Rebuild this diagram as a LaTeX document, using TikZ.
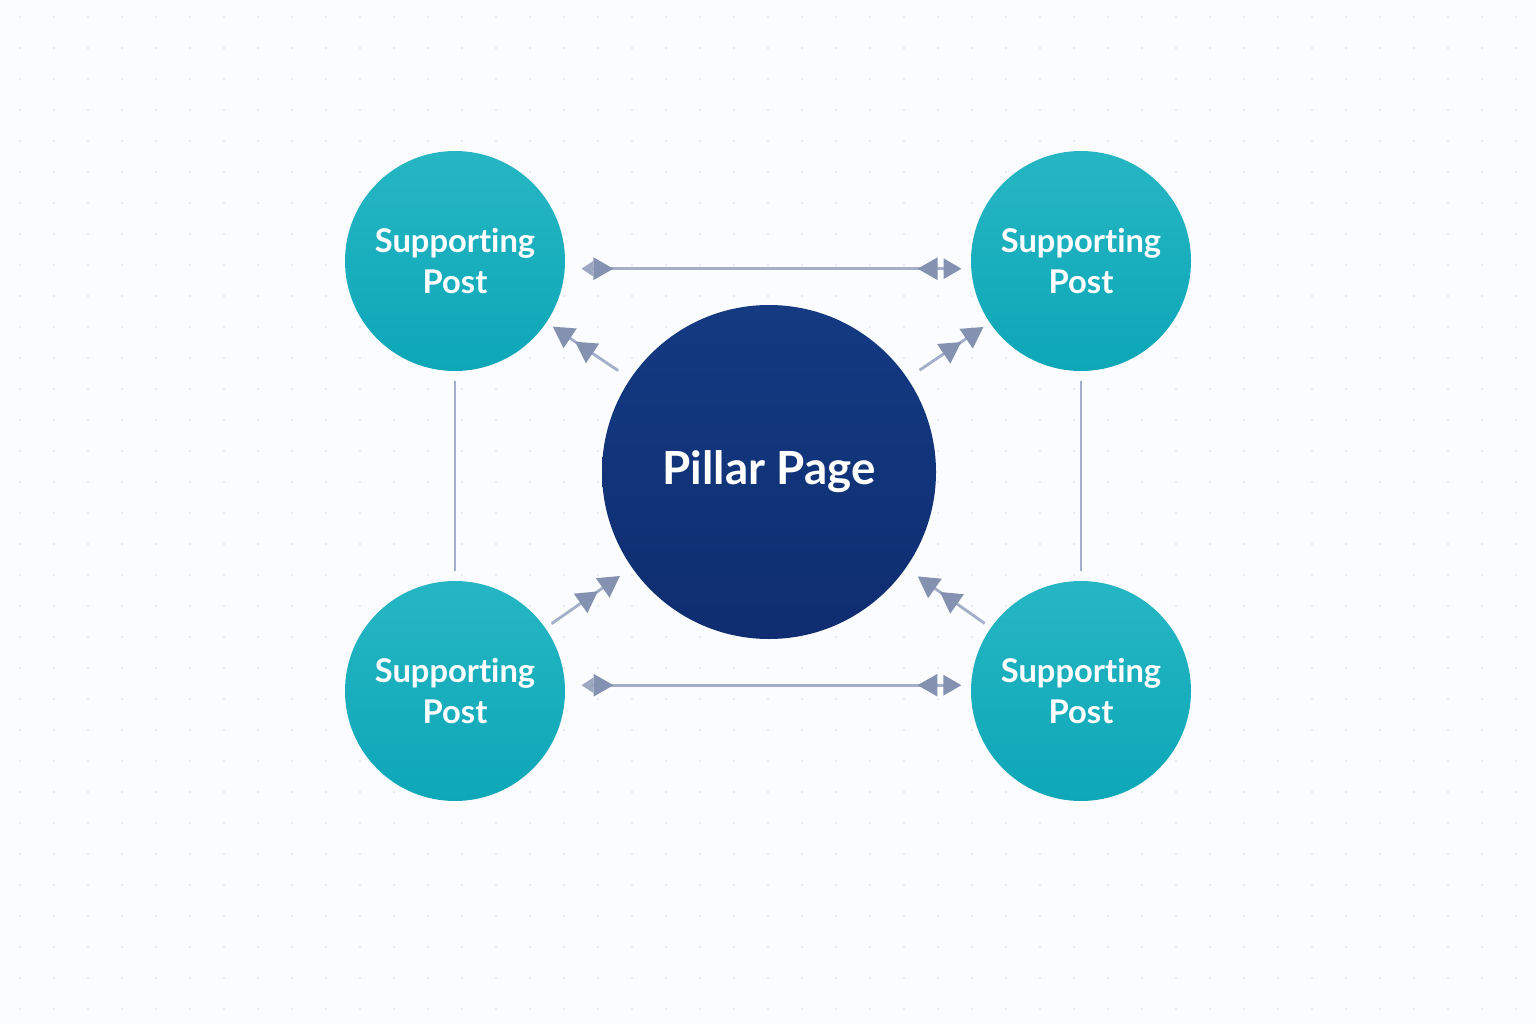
\documentclass[tikz,border=0pt]{standalone}
\usepackage{fontspec}
\setmainfont{Lato}[RawFeature={-liga;-dlig;-calt}]
\usepackage{tikz}
\usepackage{xcolor}
\usetikzlibrary{arrows.meta, positioning, calc}
\definecolor{bgpaper}{HTML}{FBFCFD}
\definecolor{bgdot}{HTML}{E4E7EC}
\definecolor{tealtop}{HTML}{26B6C3}
\definecolor{tealbot}{HTML}{0DA7B8}
\definecolor{navytop}{HTML}{143A82}
\definecolor{navybot}{HTML}{0F2D70}
\definecolor{linkline}{HTML}{A3AEC8}
\definecolor{linktip}{HTML}{8591B1}
\newcommand{\posttext}{Suppor\kern0pt ting\\Post}
\tikzset{
  line cap=round,
  line join=round,
  post/.style={circle, minimum size=2.2cm, inner sep=0pt, align=center,
    top color=tealtop, bottom color=tealbot, text=white,
    font=\fontsize{9.3}{11.4}\selectfont\bfseries},
  pillar/.style={circle, minimum size=3.34cm, inner sep=0pt, align=center,
    top color=navytop, bottom color=navybot, text=white,
    font=\fontsize{13}{15}\selectfont\bfseries},
  link/.style={draw=linkline, line width=0.8pt},
  twotip/.style={link, shorten >=0.09cm, shorten <=0.09cm,
    {Triangle[length=1.2mm,width=1.5mm,color=linktip!80,sep=0.7mm]Triangle[reversed,length=2mm,width=2.2mm,color=linktip]}-{Triangle[reversed,length=2mm,width=2.2mm,color=linktip,sep=0.6mm]Triangle[length=1.8mm,width=2mm,color=linktip]}},
  spoke/.style={link, shorten >=0.07cm, shorten <=0.14cm,
    -{Triangle[length=2.1mm,width=2.3mm,color=linktip,sep=0.6mm]Triangle[length=2.1mm,width=2.3mm,color=linktip]}}
}

\begin{document}
\begin{tikzpicture}
    % Hintergrund mit Punktraster
    \fill[bgpaper] (0,0) rectangle (15.36,10.24);
    \useasboundingbox (0,0) rectangle (15.36,10.24);
    \foreach \i in {0,...,44}
      \foreach \j in {0,...,32}
        \fill[bgdot] (0.2+0.34*\i,0.15+0.31*\j) circle (0.012);

    % Knoten
    \node[pillar] (pillar) at (7.69,5.52) {\raisebox{0.08cm}{Pillar Page}};
    \node[post] (tl) at (4.55,7.63) {\posttext};
    \node[post] (tr) at (10.81,7.63) {\posttext};
    \node[post] (bl) at (4.55,3.33) {\posttext};
    \node[post] (br) at (10.81,3.33) {\posttext};

    % horizontale Verbindungen
    \draw[twotip] (tl.-4) -- (tr.184);
    \draw[twotip] (bl.3) -- (br.177);

    % vertikale Verbindungen
    \draw[link, shorten >=0.09cm, shorten <=0.09cm] (tl) -- (bl);
    \draw[link, shorten >=0.09cm, shorten <=0.09cm] (tr) -- (br);

    % Speichen zur Pillar Page
    \draw[spoke] (pillar) -- (tl);
    \draw[spoke] (pillar) -- (tr);
    \draw[spoke, shorten >=0.14cm, shorten <=0.07cm] (bl) -- (pillar);
    \draw[spoke, shorten >=0.14cm, shorten <=0.07cm] (br) -- (pillar);
\end{tikzpicture}
\end{document}
